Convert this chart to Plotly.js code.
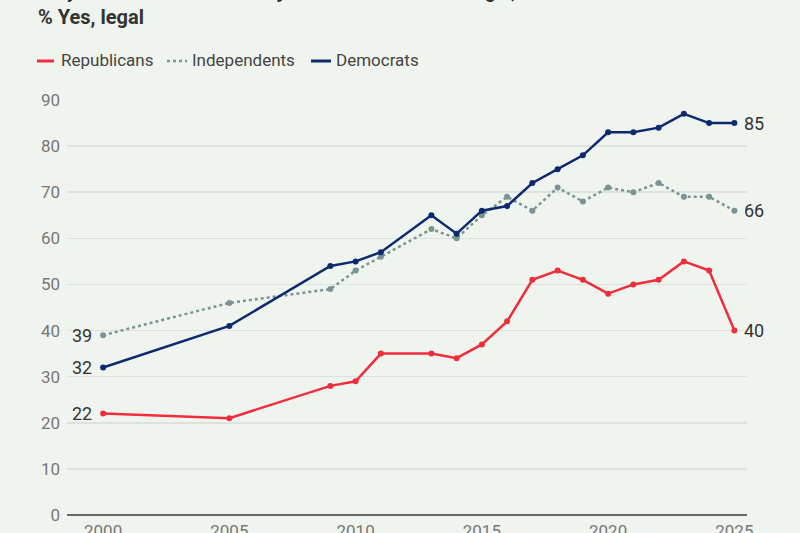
<!DOCTYPE html>
<html>
<head>
<meta charset="utf-8">
<script src="https://cdn.plot.ly/plotly-3.0.1.min.js"></script>
<style>
  html, body { margin: 0; padding: 0; background: #eff5ee; }
  #chart { width: 800px; height: 533px; }
</style>
</head>
<body>
<div id="chart"></div>
<script>
// ---- data ----
const yearsRep = [2000, 2005, 2009, 2010, 2011, 2013, 2014, 2015, 2016, 2017, 2018, 2019, 2020, 2021, 2022, 2023, 2024, 2025];
const republicans = [22, 21, 28, 29, 35, 35, 34, 37, 42, 51, 53, 51, 48, 50, 51, 55, 53, 40];
const yearsInd = [2000, 2005, 2009, 2010, 2011, 2013, 2014, 2015, 2016, 2017, 2018, 2019, 2020, 2021, 2022, 2023, 2024, 2025];
const independents = [39, 46, 49, 53, 56, 62, 60, 65, 69, 66, 71, 68, 71, 70, 72, 69, 69, 66];
const yearsDem = [2000, 2005, 2009, 2010, 2011, 2013, 2014, 2015, 2016, 2017, 2018, 2019, 2020, 2021, 2022, 2023, 2024, 2025];
const democrats = [32, 41, 54, 55, 57, 65, 61, 66, 67, 72, 75, 78, 83, 83, 84, 87, 85, 85];
const seriesNames = ["Republicans", "Independents", "Democrats"];
const xTicks = [2000, 2005, 2010, 2015, 2020, 2025];
const yTicks = [0, 10, 20, 30, 40, 50, 60, 70, 80, 90];

// ---- style ----
const colors = { Republicans: "#f02d3d", Independents: "#7b9393", Democrats: "#0d2a6e" };
const dashes = { Republicans: "solid", Independents: "dot", Democrats: "solid" };
const font = "Roboto, 'Open Sans', sans-serif";

const seriesData = [
  { name: "Republicans", x: yearsRep, y: republicans },
  { name: "Independents", x: yearsInd, y: independents },
  { name: "Democrats", x: yearsDem, y: democrats }
];

const traces = seriesData.map(s => ({
  type: "scatter",
  mode: "lines+markers",
  name: s.name,
  x: s.x,
  y: s.y,
  line: { color: colors[s.name], width: 2.5, dash: dashes[s.name] },
  marker: { color: colors[s.name], size: 6 },
  showlegend: false,
  hoverinfo: "x+y+name"
}));

const annotations = [];
// start / end value labels
seriesData.forEach(s => {
  const n = s.x.length;
  annotations.push({
    x: s.x[0], y: s.y[0], xref: "x", yref: "y",
    text: String(s.y[0]), showarrow: false,
    xanchor: "right", yanchor: "middle", xshift: -9,
    font: { family: font, size: 18, color: "#333" }
  });
  annotations.push({
    x: s.x[n - 1], y: s.y[n - 1], xref: "x", yref: "y",
    text: String(s.y[n - 1]), showarrow: false,
    xanchor: "left", yanchor: "middle", xshift: 8,
    font: { family: font, size: 18, color: "#333" }
  });
});

// titles (plot spans y 100..515 px)
const plotTop = 100, plotBottom = 515, plotH = plotBottom - plotTop;
const plotLeft = 67, plotRight = 747, plotW = plotRight - plotLeft;
const py = px => (plotBottom - px) / plotH;
const pxX = px => (px - plotLeft) / plotW;

annotations.push({
  xref: "paper", yref: "paper", x: pxX(37), y: py(-9),
  xanchor: "left", yanchor: "middle", showarrow: false,
  text: "<b>Do you think the use of marijuana should be made legal, or not?</b>",
  font: { family: font, size: 19, color: "#333" }
});
annotations.push({
  xref: "paper", yref: "paper", x: pxX(36), y: py(17),
  xanchor: "left", yanchor: "middle", showarrow: false,
  text: "<b>% Yes, legal</b>",
  font: { family: font, size: 20, color: "#333" }
});

// custom legend
const legendItems = [
  { name: seriesNames[0], x0: 37, x1: 54, tx: 59 },
  { name: seriesNames[1], x0: 167, x1: 187, tx: 190 },
  { name: seriesNames[2], x0: 311, x1: 331, tx: 334 }
];
const shapes = [];
legendItems.forEach(it => {
  shapes.push({
    type: "line", xref: "paper", yref: "paper",
    x0: pxX(it.x0), x1: pxX(it.x1), y0: py(61), y1: py(61),
    line: { color: colors[it.name], width: it.name === "Independents" ? 2.5 : 3, dash: dashes[it.name] }
  });
  annotations.push({
    xref: "paper", yref: "paper", x: pxX(it.tx), y: py(60),
    xanchor: "left", yanchor: "middle", showarrow: false,
    text: it.name,
    font: { family: font, size: 17, color: "#444" }
  });
});

const layout = {
  width: 800, height: 533,
  paper_bgcolor: "#eff5ee",
  plot_bgcolor: "#eff5ee",
  margin: { l: plotLeft, r: 800 - plotRight, t: plotTop, b: 533 - plotBottom, pad: 0 },
  showlegend: false,
  font: { family: font, color: "#777" },
  xaxis: {
    range: [1998.57, 2025.5],
    tickvals: xTicks,
    ticktext: xTicks.map(String),
    showgrid: false,
    zeroline: false,
    showline: false,
    ticks: "",
    ticklabelstandoff: 4,
    tickfont: { family: font, size: 17, color: "#777" },
    automargin: false,
    fixedrange: true
  },
  yaxis: {
    range: [0, 90],
    tickvals: yTicks,
    ticktext: yTicks.map(String),
    showgrid: true,
    gridcolor: "#dde3dc",
    gridwidth: 1.5,
    zeroline: true,
    zerolinecolor: "#666",
    zerolinewidth: 2,
    showline: false,
    ticks: "",
    ticklabelstandoff: 6,
    tickfont: { family: font, size: 17, color: "#777" },
    automargin: false,
    fixedrange: true
  },
  shapes: shapes,
  annotations: annotations
};

Plotly.newPlot("chart", traces, layout, { displayModeBar: false, staticPlot: true });
</script>
</body>
</html>
